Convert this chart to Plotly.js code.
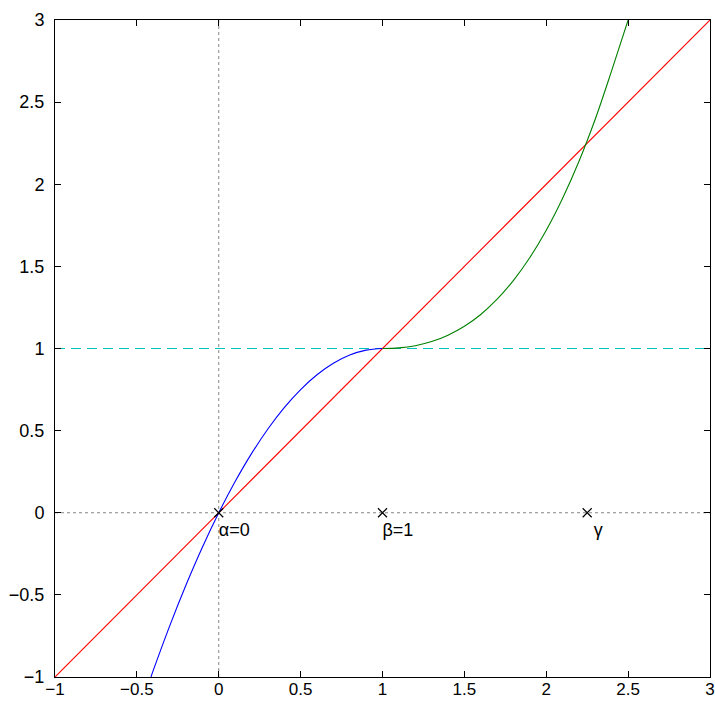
<!DOCTYPE html>
<html>
<head>
<meta charset="utf-8">
<script src="https://cdn.plot.ly/plotly-3.0.1.min.js"></script>
<style>html,body{margin:0;padding:0;background:#fff;}#chart{width:715px;height:702px;}</style>
</head>
<body>
<div id="chart"></div>
<script>
// Blue branch (x <= 1)
const blueX = [-0.414, -0.4, -0.3, -0.2, -0.1, 0, 0.1, 0.2, 0.3, 0.4, 0.5, 0.6, 0.7, 0.8, 0.9, 1.0];
const blueY = [-1.0, -0.96, -0.69, -0.44, -0.21, 0, 0.19, 0.36, 0.51, 0.64, 0.75, 0.84, 0.91, 0.96, 0.99, 1.0];
// Green branch (x >= 1)
const greenX = [1.0, 1.1, 1.2, 1.3, 1.4, 1.5, 1.6, 1.7, 1.8, 1.9, 2.0, 2.1, 2.2, 2.3, 2.4, 2.5];
const greenY = [1.0, 1.004, 1.017, 1.042, 1.081, 1.135, 1.207, 1.300, 1.415, 1.554, 1.72, 1.915, 2.140, 2.399, 2.693, 3.0];
// Identity line y = x
const lineX = [-1, 3];
const lineY = [-1, 3];
// Horizontal level y = 1
const levelX = [-1, 3];
const levelY = [1, 1];
// Fixed points
const fixedX = [0, 1, 2.25];
const fixedY = [0, 0, 0];
const fixedLabels = ['α=0', 'β=1', 'γ'];
const labelX = [0, 1, 2.29];
const labelY = [-0.115, -0.115, -0.115];
// Axis ticks
const tickVals = [-1, -0.5, 0, 0.5, 1, 1.5, 2, 2.5, 3];
const tickText = ['−1', '−0.5', '0', '0.5', '1', '1.5', '2', '2.5', '3'];

const traces = [
  {x: [-1, 3], y: [0, 0], mode: 'lines', line: {color: 'rgb(100,100,100)', width: 0.8, dash: 'dot'}, hoverinfo: 'skip'},
  {x: [0, 0], y: [-1, 3], mode: 'lines', line: {color: 'rgb(100,100,100)', width: 0.8, dash: 'dot'}, hoverinfo: 'skip'},
  {x: levelX, y: levelY, mode: 'lines', line: {color: 'rgb(0,191,191)', width: 1.2, dash: '10px,6px'}},
  {x: lineX, y: lineY, mode: 'lines', line: {color: 'rgb(255,0,0)', width: 1.1}},
  {x: blueX, y: blueY, mode: 'lines', line: {color: 'rgb(0,0,255)', width: 1.1, shape: 'spline'}},
  {x: greenX, y: greenY, mode: 'lines', line: {color: 'rgb(0,128,0)', width: 1.1, shape: 'spline'}},
  {x: fixedX, y: fixedY, mode: 'markers', marker: {symbol: 'x-thin-open', size: 9, color: '#000', line: {color: '#000', width: 1.2}}},
  {x: labelX, y: labelY, mode: 'text', text: fixedLabels, textposition: 'middle right',
   textfont: {family: 'Liberation Sans, Arial, sans-serif', size: 18, color: '#000'}}
];

const axisCommon = {
  range: [-1, 3],
  tickvals: tickVals,
  ticktext: tickText,
  ticks: 'inside',
  ticklen: 6,
  tickwidth: 1,
  tickcolor: '#000',
  showline: true,
  linecolor: '#000',
  linewidth: 1,
  mirror: 'allticks',
  showgrid: false,
  zeroline: false,
  ticklabeloverflow: 'allow',
  tickfont: {family: 'Liberation Sans, Arial, sans-serif', size: 18, color: '#000'}
};

const layout = {
  width: 715,
  height: 702,
  margin: {l: 55, r: 5, t: 20, b: 25},
  paper_bgcolor: '#fff',
  plot_bgcolor: '#fff',
  showlegend: false,
  xaxis: Object.assign({}, axisCommon, {ticklabelstandoff: -3,
    tickfont: {family: 'Liberation Sans, Arial, sans-serif', size: 17, color: '#000'}}),
  yaxis: Object.assign({}, axisCommon, {ticklabelstandoff: 6})
};

Plotly.newPlot('chart', traces, layout, {displayModeBar: false, staticPlot: true});
</script>
</body>
</html>
